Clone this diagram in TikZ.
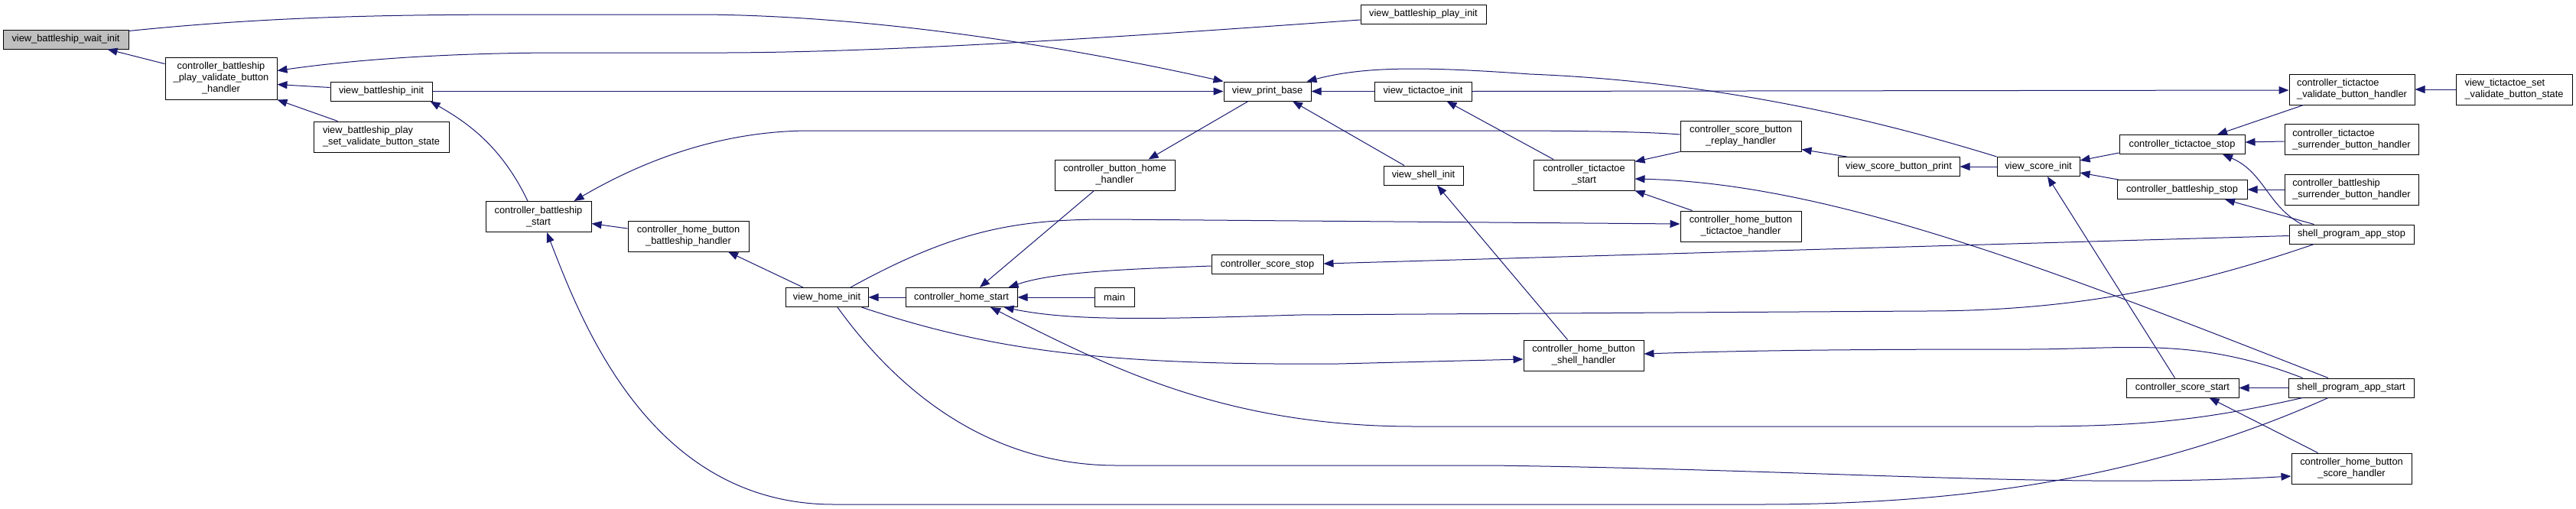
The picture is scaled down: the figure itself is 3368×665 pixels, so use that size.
\documentclass[tikz,border=0pt]{standalone}
\usepackage{fontspec}
\setmainfont{Liberation Sans}
\usetikzlibrary{arrows.meta,calc}
\definecolor{edgeblue}{HTML}{191970}
\definecolor{rootgray}{HTML}{BFBFBF}
\begin{document}
\begin{tikzpicture}[x=1pt,y=-1pt,
  fn/.style={draw=black, line width=1pt, fill=white, inner sep=0pt, font=\fontsize{12.8}{15}\selectfont, align=center},
  fnl/.style={fn, align=left},
  h1/.style={minimum height=25pt},
  h2/.style={minimum height=40pt},
  h3/.style={minimum height=55pt},
  e/.style={draw=edgeblue, line width=1pt, -{Triangle[length=13pt,width=10pt]}},
]
\path[use as bounding box] (0,0) rectangle (3368,665);

\node[fn,h1,fill=rootgray,minimum width=164pt] (wait) at (86,51.5) {view\_battleship\_wait\_init};
\node[fn,h3,minimum width=146pt] (cbpv) at (289,102.5) {controller\_battleship\\\_play\_validate\_button\\\_handler};
\node[fn,h1,minimum width=133pt] (vbi) at (498.5,119.5) {view\_battleship\_init};
\node[fnl,h2,minimum width=177pt] (vbps) at (498.5,179) {view\_battleship\_play\\\_set\_validate\_button\_state};
\node[fn,h2,minimum width=138pt] (cbs) at (704,283.5) {controller\_battleship\\\_start};
\node[fn,h2,minimum width=158pt] (chbb) at (900,309) {controller\_home\_button\\\_battleship\_handler};
\node[fn,h1,minimum width=108pt] (vhi) at (1081,389) {view\_home\_init};
\node[fn,h1,minimum width=146pt] (chs) at (1257,389) {controller\_home\_start};
\node[fn,h1,minimum width=52pt] (main) at (1457,389) {main};
\node[fn,h1,minimum width=146pt] (css) at (1657,346) {controller\_score\_stop};
\node[fn,h2,minimum width=157pt] (cbhh) at (1457.5,229) {controller\_button\_home\\\_handler};
\node[fn,h1,minimum width=114pt] (vpb) at (1657,119.5) {view\_print\_base};
\node[fn,h1,minimum width=164pt] (vbpi) at (1861,18.5) {view\_battleship\_play\_init};
\node[fn,h1,minimum width=127pt] (vti) at (1860.5,119.5) {view\_tictactoe\_init};
\node[fn,h1,minimum width=104pt] (vshi) at (1861,229.5) {view\_shell\_init};
\node[fn,h2,minimum width=132pt] (cts) at (2071,229) {controller\_tictactoe\\\_start};
\node[fn,h2,minimum width=157pt] (chbsh) at (2070.5,465) {controller\_home\_button\\\_shell\_handler};
\node[fn,h2,minimum width=158pt] (csbr) at (2276,178) {controller\_score\_button\\\_replay\_handler};
\node[fn,h2,minimum width=158pt] (chbt) at (2276,296) {controller\_home\_button\\\_tictactoe\_handler};
\node[fn,h1,minimum width=159pt] (vsbp) at (2482.5,218) {view\_score\_button\_print};
\node[fn,h1,minimum width=108pt] (vsi) at (2665,218) {view\_score\_init};
\node[fn,h1,minimum width=164pt] (ctstop) at (2853,189) {controller\_tictactoe\_stop};
\node[fn,h1,minimum width=170pt] (cbstop) at (2853,248) {controller\_battleship\_stop};
\node[fn,h1,minimum width=147pt] (cscs) at (2853.5,507.5) {controller\_score\_start};
\node[fnl,h2,minimum width=164pt] (ctvbh) at (3075,117) {controller\_tictactoe\\\_validate\_button\_handler};
\node[fnl,h2,minimum width=175pt] (ctsbh) at (3074.5,182.5) {controller\_tictactoe\\\_surrender\_button\_handler};
\node[fnl,h2,minimum width=175pt] (cbsbh) at (3074.5,248) {controller\_battleship\\\_surrender\_button\_handler};
\node[fn,h1,minimum width=163pt] (spastop) at (3074.5,306.5) {shell\_program\_app\_stop};
\node[fn,h1,minimum width=164pt] (spastart) at (3074,507.5) {shell\_program\_app\_start};
\node[fn,h2,minimum width=157pt] (chbsc) at (3074.5,613) {controller\_home\_button\\\_score\_handler};
\node[fnl,h2,minimum width=152pt] (vtsvbs) at (3287,117) {view\_tictactoe\_set\\\_validate\_button\_state};

% edges
\draw[e] ($(cbpv.north west)+(0,9)$) -- ($(wait.south east)+(-28,0)$);
\draw[e] ($(wait.north east)+(0,2)$) .. controls (350,22) and (500,19) .. (700,19) -- (920,19) .. controls (1150,21) and (1400,62) .. (vpb.north west);
\draw[e] ($(vbpi.west)+(0,7.5)$) .. controls (1550,42) and (1200,68) .. (950,69) -- (720,69) .. controls (560,70) and (450,80) .. ($(cbpv.east)+(0,-10)$);
\draw[e] ($(vbi.west)+(0,-5)$) -- ($(cbpv.east)+(0,8)$);
\draw[e] ($(vbps.north west)+(32,0)$) -- (cbpv.south east);
\draw[e] (vbi.east) -- (vpb.west);
\draw[e] ($(cbs.north)+(-14,0)$) .. controls (655,190) and (610,160) .. ($(vbi.south east)+(-3,0)$);
\draw[e] ($(csbr.west)+(0,-2)$) .. controls (2150,172) and (2050,171) .. (1950,171) -- (1060,171) .. controls (950,171) and (850,205) .. ($(cbs.north east)+(-23,0)$);
\draw[e] ($(chbb.west)+(0,-10)$) -- ($(cbs.east)+(0,9)$);
\draw[e] ($(vhi.north)+(-31,0)$) -- ($(chbb.south)+(52,0)$);
\draw[e] ($(spastart.south)+(-30,0)$) .. controls (2800,630) and (2550,660) .. (2300,660) -- (1090,660) .. controls (850,660) and (760,420) .. ($(cbs.south)+(11,0)$);
\draw[e] (chs.west) -- (vhi.east);
\draw[e] (main.west) -- (chs.east);
\draw[e] ($(css.west)+(0,2)$) .. controls (1480,352) and (1380,355) .. ($(chs.north east)+(-12,0)$);
\draw[e] ($(cbhh.south)+(-27,0)$) -- ($(chs.north)+(24,0)$);
\draw[e] ($(vpb.south)+(-25,0)$) -- ($(cbhh.north)+(44,0)$);
\draw[e] ($(vhi.north)+(31,0)$) .. controls (1250,300) and (1330,287) .. (1450,287) -- ($(chbt.west)+(0,-3)$);
\draw[e] ($(chbt.north west)+(16,0)$) -- (cts.south east);
\draw[e] (csbr.south west) -- ($(cts.north east)+(0,3)$);
\draw[e] ($(vsbp.north west)+(12,0)$) -- ($(csbr.south east)+(0,-3)$);
\draw[e] (vsi.west) -- (vsbp.east);
\draw[e] ($(spastart.north)+(-30,0)$) .. controls (2700,360) and (2400,240) .. ($(cts.east)+(0,5)$);
\draw[e] ($(cscs.north)+(-10,0)$) -- ($(vsi.south)+(12,0)$);
\draw[e] (vti.west) -- (vpb.east);
\draw[e] ($(cts.north)+(-40,0)$) -- ($(vti.south)+(31,0)$);
\draw[e] ($(vshi.north)+(-25,0)$) -- ($(vpb.south)+(33,0)$);
\draw[e] ($(chbsh.north)+(-21,0)$) -- ($(vshi.south)+(18,0)$);
\draw[e] ($(vhi.south east)+(-9,0)$) .. controls (1300,460) and (1450,478) .. (1750,476) -- ($(chbsh.west)+(0,5)$);
\draw[e] ($(spastart.north west)+(19,0)$) .. controls (2870,440) and (2780,457) .. (2650,457) .. controls (2450,457) and (2300,458) .. ($(chbsh.east)+(0,-2)$);
\draw[e] ($(spastart.south west)+(19,0)$) .. controls (2880,550) and (2800,558) .. (2650,558) -- (1850,558) .. controls (1600,558) and (1450,480) .. ($(chs.south)+(38,0)$);
\draw[e] ($(spastop.south west)+(33,0)$) .. controls (2850,380) and (2700,407) .. (2514,407) -- (1700,412) .. controls (1500,418) and (1400,420) .. ($(chs.south east)+(-18,0)$);
\draw[e] ($(spastop.west)+(0,2)$) -- ($(css.east)+(0,-1)$);
\draw[e] ($(vhi.south)+(14,0)$) .. controls (1180,520) and (1300,609) .. (1460,609) -- (1950,609) .. controls (2400,615) and (2700,640) .. ($(chbsc.west)+(0,10)$);
\draw[e] ($(chbsc.north)+(-44,0)$) -- ($(cscs.south)+(35,0)$);
\draw[e] (spastart.west) -- (cscs.east);
\draw[e] ($(ctstop.south west)+(0,-2)$) -- ($(vsi.east)+(0,-8)$);
\draw[e] ($(cbstop.north west)+(2,0)$) -- ($(vsi.east)+(0,8)$);
\draw[e] (vsi.north west) .. controls (2400,140) and (2200,105) .. (2000,97) .. controls (1850,86) and (1780,88) .. ($(vpb.north east)+(-6,0)$);
\draw[e] (vti.east) -- ($(ctvbh.west)+(0,1)$);
\draw[e] (vtsvbs.west) -- (ctvbh.east);
\draw[e] ($(ctvbh.south west)+(19,0)$) -- ($(ctstop.north)+(46,0)$);
\draw[e] ($(ctsbh.west)+(0,2.5)$) -- ($(ctstop.east)+(0,-3)$);
\draw[e] (cbsbh.west) -- (cbstop.east);
\draw[e] ($(spastop.north west)+(17,0)$) .. controls (2965,270) and (2960,225) .. ($(ctstop.south)+(53,0)$);
\draw[e] ($(spastop.north west)+(33,0)$) -- ($(cbstop.south)+(56,0)$);
\end{tikzpicture}
\end{document}
